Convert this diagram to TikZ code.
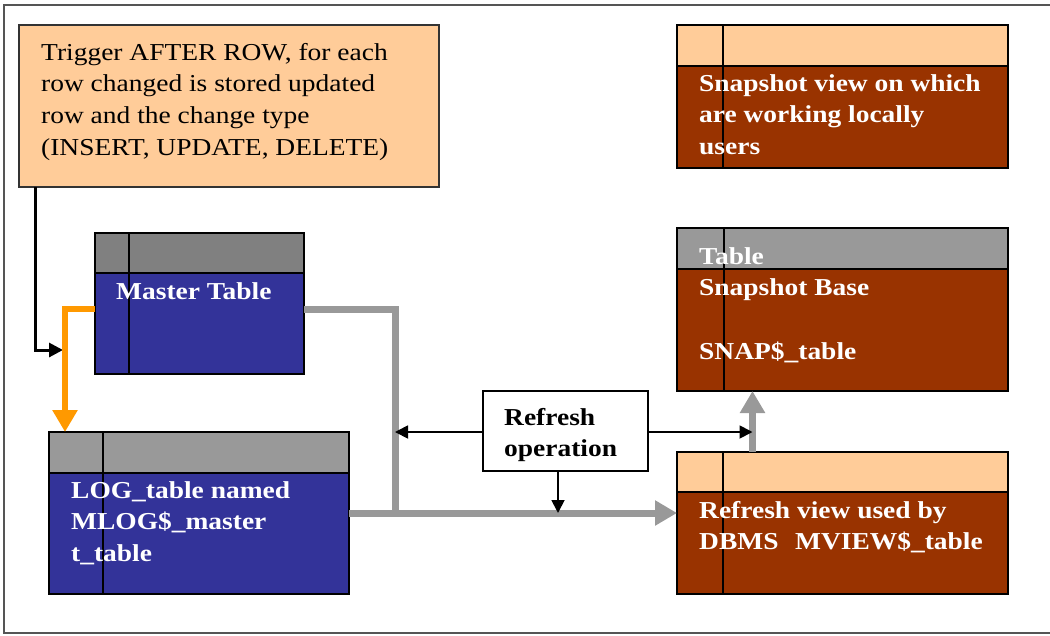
\documentclass[tikz,border=0pt]{standalone}
\usepackage{fontspec}
\setmainfont{Liberation Serif}[FakeStretch=1.13]
\usetikzlibrary{arrows.meta}
\definecolor{peach}{HTML}{FFCC99}
\definecolor{navy}{HTML}{333399}
\definecolor{brick}{HTML}{993300}
\definecolor{hdgray}{HTML}{808080}
\definecolor{ltgray}{HTML}{999999}
\definecolor{orng}{HTML}{FF9900}
\definecolor{frame}{HTML}{555555}
\newcommand\txtlines[1]{\vtop{\baselineskip=31.7pt\halign{##\hfil\cr#1\crcr}}}
\newcommand\dbtab[9]{%
  \node[tabbox, fill=#9, minimum width={#4-#2}, minimum height={#5-#3}] (#1) at ({(#2+#4)/2},{(#3+#5)/2}) {};
  \fill[#8] (#2,#3) rectangle (#4,#6);
  \draw[tabline] (#2,#6) -- (#4,#6);
  \draw[tabline] (#7,#3) -- (#7,#5);
  \draw[tabline] (#1.north west) rectangle (#1.south east);
}
\tikzset{
  tabbox/.style={draw=black, line width=1.5pt, inner sep=0pt, outer sep=0pt, rectangle},
  tabline/.style={draw=black, line width=1.5pt},
  notebox/.style={draw=black!80, line width=1.5pt, fill=peach, inner sep=0pt, outer sep=0pt, rectangle},
  opbox/.style={draw=black, line width=1.5pt, fill=white, inner sep=0pt, outer sep=0pt, rectangle},
  txt/.style={anchor=base west, inner sep=0pt, font=\fontsize{24.3}{31.7}\selectfont},
  wtxt/.style={txt, text=white, font=\fontsize{24.3}{31.7}\selectfont\bfseries},
  btxt/.style={txt, text=black, font=\fontsize{24.3}{31.7}\selectfont\bfseries},
  blkarrow/.style={draw=black, line width=1.8pt, -{Triangle[length=13pt,width=13pt]}},
  trigline/.style={draw=black, line width=3pt, -{Triangle[length=14pt,width=14pt]}},
  orngline/.style={draw=orng, line width=6pt, -{Triangle[length=22pt,width=24pt]}},
  grayline/.style={draw=ltgray, line width=7pt},
  grayarrow/.style={grayline, -{Triangle[length=22pt,width=24pt]}},
}
\begin{document}
\begin{tikzpicture}[x=1pt,y=-1pt]
\useasboundingbox (0,0) rectangle (1050,635);
\draw[frame, line width=2.5pt] (1055,5) -- (4,5) -- (4,633) -- (1055,633);

% trigger note
\node[notebox, minimum width=420, minimum height=162, anchor=north west] (trig) at (19,25) {};
\node[txt] (trigtxt) at (41,60) {\txtlines{Trigger AFTER ROW, for each\cr row changed is stored updated\cr row and the change type\cr (INSERT, UPDATE, DELETE)}};

% tables
\dbtab{master}{95}{233}{304}{374}{273}{129}{hdgray}{navy}
\dbtab{log}{49}{432}{349}{594}{473}{103}{ltgray}{navy}
\dbtab{sview}{677}{25}{1008}{168}{66}{723}{peach}{brick}
\dbtab{sbase}{677}{228}{1008}{391}{269}{724}{ltgray}{brick}
\dbtab{rview}{677}{452}{1008}{594}{492}{723}{peach}{brick}

% refresh operation box
\node[opbox, minimum width=165, minimum height=80] (refresh) at (565.5,431) {};

% coordinates for connector ends
\coordinate (trigend) at (63,350);
\coordinate (ornA) at (95,309);
\coordinate (ornB) at (65,432);
\coordinate (mE) at (304,309);
\coordinate (jn) at (395,513);
\coordinate (vx) at (752.5,0);
\coordinate (dx) at (558,513);
\coordinate (hy) at (0,432);

% connectors
\draw[trigline] ([xshift=16pt]trig.south west) |- (trigend);
\draw[orngline] (ornA) -| (ornB);
\draw[grayline] (mE) -| (jn);
\draw[grayarrow] (log.east) -- (rview.west |- log.east);
\draw[grayarrow] (rview.north -| vx) -- (sbase.south -| vx);
\draw[blkarrow] (refresh.west |- hy) -- (jn |- hy);
\draw[blkarrow] (refresh.east |- hy) -- (vx |- hy);
\draw[blkarrow] (refresh.south -| dx) -- (dx);

% table texts
\node[wtxt] (mastertxt) at (116,299) {Master Table};
\node[wtxt] (logtxt) at (71,498) {\txtlines{LOG\_table named\cr MLOG\$\_master\cr t\_table}};
\node[wtxt] (sviewtxt) at (699,91) {\txtlines{Snapshot view on which\cr are working locally\cr users}};
\node[wtxt] (sbasetxt) at (699,264) {\txtlines{Table\cr Snapshot Base\cr \cr SNAP\$\_table}};
\node[wtxt] (rviewtxt) at (699,518) {\txtlines{Refresh view used by\cr DBMS\hspace{0.4em} MVIEW\$\_table}};
\node[btxt] (reftxt) at (504,425) {\txtlines{Refresh\cr operation}};
\end{tikzpicture}
\end{document}
